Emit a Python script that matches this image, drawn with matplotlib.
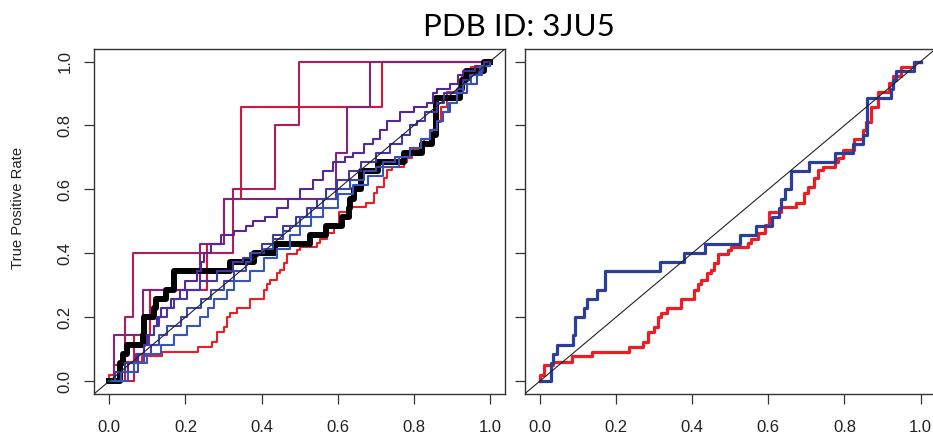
import matplotlib
matplotlib.use("Agg")
import matplotlib.pyplot as plt

# ROC curves (step vertices: fpr where tpr jumps, tpr after jump)
ticks = [0.0, 0.2, 0.4, 0.6, 0.8, 1.0]
tick_labels = ["0.0", "0.2", "0.4", "0.6", "0.8", "1.0"]

# shared by both panels: black (left) == blue (right), red in both
combo_fpr = [0.0, 0.028, 0.035, 0.046, 0.088, 0.092, 0.116, 0.123, 0.149, 0.171,
             0.316, 0.379, 0.434, 0.526, 0.568, 0.610, 0.629, 0.633, 0.644, 0.660,
             0.706, 0.774, 0.822, 0.848, 0.859, 0.921, 0.927, 0.936, 0.984, 1.0]
combo_tpr = [0.0, 0.057, 0.086, 0.114, 0.143, 0.200, 0.229, 0.257, 0.286, 0.343,
             0.371, 0.400, 0.429, 0.457, 0.486, 0.514, 0.543, 0.571, 0.600, 0.657,
             0.686, 0.714, 0.743, 0.771, 0.886, 0.914, 0.943, 0.971, 1.0, 1.0]

red_fpr = [0.0, 0.0, 0.011, 0.033, 0.085, 0.138, 0.234, 0.270, 0.283, 0.300,
           0.309, 0.318, 0.335, 0.370, 0.405, 0.414, 0.423, 0.440, 0.449, 0.458,
           0.467, 0.493, 0.502, 0.546, 0.554, 0.572, 0.590, 0.603, 0.633, 0.673,
           0.695, 0.704, 0.721, 0.730, 0.743, 0.774, 0.783, 0.796, 0.826, 0.848,
           0.857, 0.870, 0.888, 0.918, 0.927, 0.949, 0.984, 1.0]
red_tpr = [0.0, 0.018, 0.049, 0.060, 0.077, 0.091, 0.107, 0.122, 0.154, 0.169,
           0.200, 0.213, 0.229, 0.258, 0.284, 0.305, 0.316, 0.337, 0.347, 0.368,
           0.399, 0.410, 0.421, 0.433, 0.446, 0.462, 0.488, 0.530, 0.545, 0.558,
           0.587, 0.608, 0.634, 0.660, 0.671, 0.687, 0.697, 0.723, 0.757, 0.786,
           0.812, 0.859, 0.906, 0.932, 0.955, 0.984, 1.0, 1.0]

# coarse methods (few positives)
c1_fpr = [0.0, 0.041, 0.063, 0.326, 0.434, 0.497, 1.0]
c1_tpr = [0.0, 0.2, 0.4, 0.6, 0.8, 1.0, 1.0]
c2_fpr = [0.0, 0.065, 0.107, 0.256, 0.302, 0.346, 0.715, 1.0]
c2_tpr = [0.0, 0.143, 0.286, 0.429, 0.571, 0.857, 1.0, 1.0]
p1_fpr = [0.0, 0.012, 0.088, 0.238, 0.302, 0.595, 0.624, 0.685, 1.0]
p1_tpr = [0.0, 0.143, 0.286, 0.429, 0.571, 0.714, 0.857, 1.0, 1.0]

# fine methods
indigo_fpr = [0.0, 0.030, 0.050, 0.074, 0.090, 0.100, 0.117, 0.125, 0.135, 0.161,
              0.185, 0.200, 0.231, 0.240, 0.249, 0.266, 0.293, 0.328, 0.360, 0.378,
              0.410, 0.440, 0.470, 0.500, 0.536, 0.560, 0.588, 0.620, 0.641, 0.670,
              0.693, 0.710, 0.729, 0.764, 0.800, 0.834, 0.850, 0.860, 0.895, 0.915,
              0.930, 0.960, 0.985, 1.0]
indigo_tpr = [0.0, 0.029, 0.057, 0.086, 0.114, 0.143, 0.171, 0.200, 0.229, 0.257,
              0.286, 0.314, 0.343, 0.371, 0.400, 0.429, 0.457, 0.471, 0.486, 0.500,
              0.514, 0.543, 0.571, 0.600, 0.629, 0.657, 0.686, 0.700, 0.714, 0.743,
              0.757, 0.786, 0.814, 0.843, 0.857, 0.871, 0.900, 0.914, 0.929, 0.957,
              0.971, 0.986, 1.0, 1.0]
violet_fpr = [0.0, 0.015, 0.040, 0.070, 0.090, 0.105, 0.116, 0.130, 0.151, 0.170,
              0.203, 0.238, 0.282, 0.326, 0.350, 0.370, 0.400, 0.430, 0.457, 0.490,
              0.520, 0.545, 0.570, 0.597, 0.630, 0.660, 0.700, 0.737, 0.770, 0.790,
              0.807, 0.830, 0.860, 0.880, 0.913, 0.930, 0.947, 0.970, 0.982, 1.0]
violet_tpr = [0.0, 0.029, 0.057, 0.086, 0.114, 0.143, 0.171, 0.200, 0.229, 0.257,
              0.286, 0.314, 0.343, 0.371, 0.386, 0.400, 0.429, 0.457, 0.486, 0.514,
              0.543, 0.571, 0.600, 0.629, 0.657, 0.686, 0.714, 0.743, 0.771, 0.800,
              0.814, 0.843, 0.871, 0.900, 0.914, 0.943, 0.957, 0.971, 0.986, 1.0]
blue1_fpr = [0.0, 0.030, 0.074, 0.090, 0.109, 0.130, 0.151, 0.187, 0.203, 0.240,
             0.266, 0.300, 0.328, 0.360, 0.371, 0.406, 0.430, 0.457, 0.475, 0.500,
             0.530, 0.560, 0.597, 0.632, 0.670, 0.700, 0.720, 0.750, 0.790, 0.820,
             0.842, 0.860, 0.877, 0.895, 0.913, 0.940, 0.965, 0.980, 1.0]
blue1_tpr = [0.0, 0.029, 0.057, 0.086, 0.114, 0.143, 0.171, 0.200, 0.229, 0.257,
             0.286, 0.314, 0.343, 0.371, 0.400, 0.414, 0.443, 0.471, 0.486, 0.514,
             0.543, 0.571, 0.600, 0.629, 0.657, 0.671, 0.686, 0.700, 0.729, 0.757,
             0.786, 0.814, 0.843, 0.871, 0.900, 0.929, 0.957, 0.986, 1.0]
blue2_fpr = [0.0, 0.050, 0.065, 0.100, 0.135, 0.170, 0.205, 0.238, 0.260, 0.275,
             0.308, 0.328, 0.370, 0.406, 0.440, 0.475, 0.500, 0.530, 0.560, 0.600,
             0.640, 0.680, 0.720, 0.760, 0.790, 0.820, 0.842, 0.860, 0.877, 0.890,
             0.913, 0.930, 0.950, 0.975, 1.0]
blue2_tpr = [0.0, 0.029, 0.057, 0.086, 0.114, 0.143, 0.171, 0.200, 0.229, 0.257,
             0.286, 0.314, 0.343, 0.386, 0.414, 0.457, 0.486, 0.514, 0.543, 0.586,
             0.614, 0.643, 0.671, 0.700, 0.729, 0.757, 0.786, 0.814, 0.843, 0.871,
             0.900, 0.929, 0.957, 0.986, 1.0]

TICK_FONT = "Liberation Sans"


def style_axes(ax, show_ylabels=True):
    ax.set_xlim(-0.04, 1.04)
    ax.set_ylim(-0.04, 1.04)
    for sp in ax.spines.values():
        sp.set_color("#333333")
        sp.set_linewidth(1.0)
    ax.set_xticks(ticks)
    ax.set_xticklabels(tick_labels, fontsize=12, family=TICK_FONT, color="#222222")
    ax.set_yticks(ticks)
    if show_ylabels:
        ax.set_yticklabels(tick_labels, fontsize=12, family=TICK_FONT,
                           color="#222222", rotation=90, va="center")
    else:
        ax.set_yticklabels([])
    ax.tick_params(axis="x", direction="out", length=7.5, width=0.9,
                   color="#333333", pad=11)
    ax.tick_params(axis="y", direction="out", length=7.5, width=0.9,
                   color="#333333", pad=8)
    # diagonal reference line
    ax.axline((0, 0), (1, 1), color="#222222", lw=0.8, zorder=10)


fig = plt.figure(figsize=(9.33, 4.47), dpi=100)
ax1 = fig.add_axes([0.1009, 0.119, 0.4406, 0.772])
ax2 = fig.add_axes([0.5624, 0.119, 0.4406, 0.772])

# left panel: all methods
ax1.step(red_fpr, red_tpr, where="post", color="#EE1C24", lw=1.5)
ax1.step(c2_fpr, c2_tpr, where="post", color="#D2163E", lw=1.5)
ax1.step(c1_fpr, c1_tpr, where="post", color="#AE1E5C", lw=1.5)
ax1.step(p1_fpr, p1_tpr, where="post", color="#80257A", lw=1.5)
ax1.step(combo_fpr, combo_tpr, where="post", color="black", lw=4.3)
ax1.step(indigo_fpr, indigo_tpr, where="post", color="#55289A", lw=1.5)
ax1.step(violet_fpr, violet_tpr, where="post", color="#4436A6", lw=1.5)
ax1.step(blue1_fpr, blue1_tpr, where="post", color="#3A49B0", lw=1.5)
ax1.step(blue2_fpr, blue2_tpr, where="post", color="#3556BB", lw=1.5)
style_axes(ax1, show_ylabels=True)

# right panel: the two highlighted methods
ax2.step(red_fpr, red_tpr, where="post", color="#EE1C24", lw=2.3)
ax2.step(combo_fpr, combo_tpr, where="post", color="#2C3E98", lw=2.3)
style_axes(ax2, show_ylabels=False)

fig.text(0.5565, 0.94, "PDB ID: 3JU5", family="Lato", fontsize=22.5,
         ha="center", va="center", color="black")
fig.text(18.5 / 933, 1 - 207.5 / 447, "True Positive Rate", family=TICK_FONT,
         fontsize=10.7, rotation=90, ha="center", va="center", color="#222222")

fig.savefig("out.png", dpi=100)
